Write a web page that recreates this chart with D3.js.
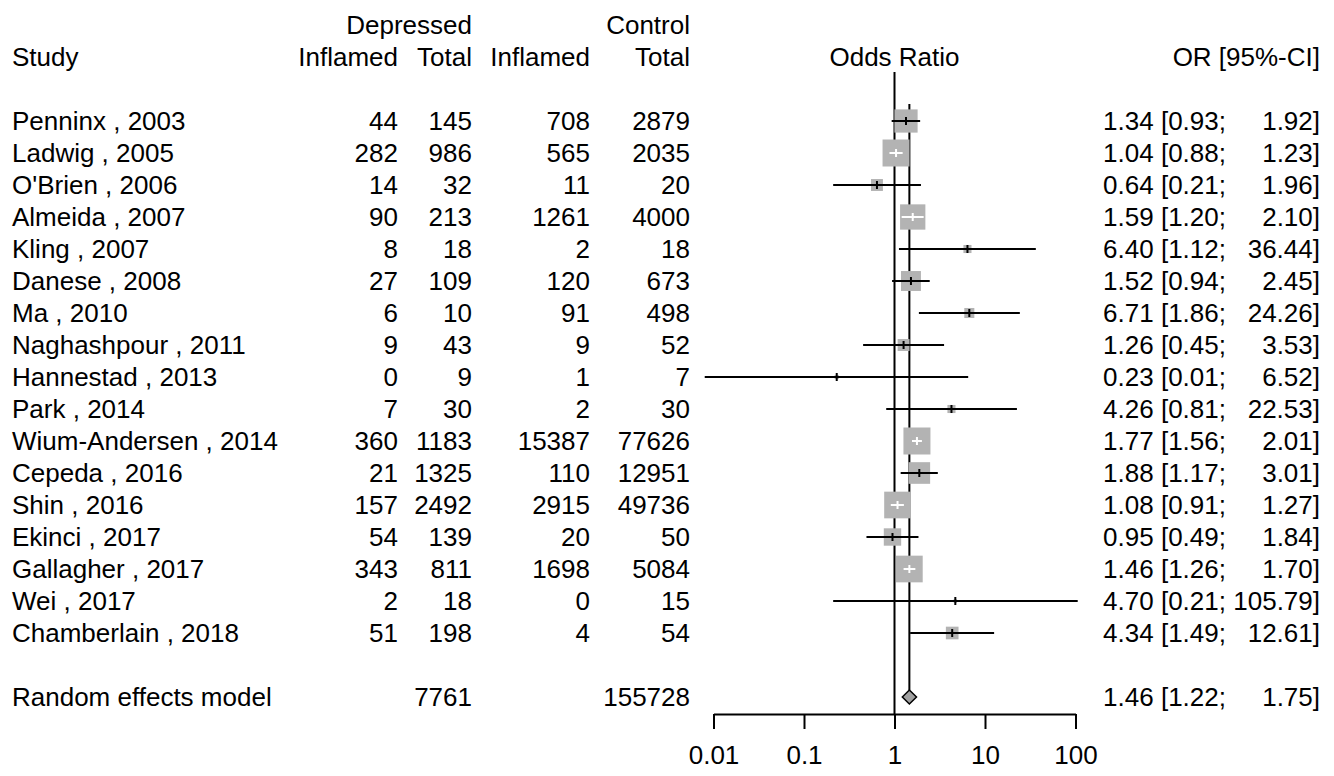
<!DOCTYPE html>
<html lang="en">

<head>
    <meta charset="UTF-8">
    <title>Forest plot - inflammation and depression</title>
    <style>
        body {
            margin: 0;
            background: white;
        }

        text {
            font-family: "Liberation Sans", Helvetica, Arial, sans-serif;
            font-size: 26px;
            fill: black;
        }

        .axis path,
        .axis line {
            fill: none;
            stroke: black;
            stroke-width: 2px;
        }

        .axis text {
            font-family: "Liberation Sans", Helvetica, Arial, sans-serif;
            font-size: 26px;
        }

        .box {
            fill: #b3b3b3;
        }

        .ci {
            stroke-width: 2px;
        }
    </style>
</head>

<body>
    <script src="https://d3js.org/d3.v7.min.js"></script>
    <script>
        var width = 1334;
        var height = 776;

        // studies
        var studies = ["Penninx , 2003", "Ladwig , 2005", "O'Brien , 2006", "Almeida , 2007", "Kling , 2007",
            "Danese , 2008", "Ma , 2010", "Naghashpour , 2011", "Hannestad , 2013", "Park , 2014",
            "Wium-Andersen , 2014", "Cepeda , 2016", "Shin , 2016", "Ekinci , 2017", "Gallagher , 2017",
            "Wei , 2017", "Chamberlain , 2018"];
        var depInflamed = [44, 282, 14, 90, 8, 27, 6, 9, 0, 7, 360, 21, 157, 54, 343, 2, 51];
        var depTotal = [145, 986, 32, 213, 18, 109, 10, 43, 9, 30, 1183, 1325, 2492, 139, 811, 18, 198];
        var ctlInflamed = [708, 565, 11, 1261, 2, 120, 91, 9, 1, 2, 15387, 110, 2915, 20, 1698, 0, 4];
        var ctlTotal = [2879, 2035, 20, 4000, 18, 673, 498, 52, 7, 30, 77626, 12951, 49736, 50, 5084, 15, 54];
        var orEst = [1.34, 1.04, 0.64, 1.59, 6.40, 1.52, 6.71, 1.26, 0.23, 4.26, 1.77, 1.88, 1.08, 0.95, 1.46, 4.70, 4.34];
        var orLow = [0.93, 0.88, 0.21, 1.20, 1.12, 0.94, 1.86, 0.45, 0.008, 0.81, 1.56, 1.17, 0.91, 0.49, 1.26, 0.21, 1.49];
        var orUpp = [1.92, 1.23, 1.96, 2.10, 36.44, 2.45, 24.26, 3.53, 6.52, 22.53, 2.01, 3.01, 1.27, 1.84, 1.70, 105.79, 12.61];
        // random effects weights (%)
        var weights = [9.1, 12.3, 2.4, 10.8, 1.1, 6.7, 1.7, 2.4, 0.3, 1.1, 12.3, 7.9, 12.0, 5.1, 12.0, 0.2, 2.7];

        // pooled estimate
        var pooled = { label: "Random effects model", depTotal: 7761, ctlTotal: 155728, est: 1.46, low: 1.22, upp: 1.75 };
        var tickValues = [0.01, 0.1, 1, 10, 100];

        var svg = d3.select('body').append('svg').attr('width', width).attr('height', height);

        var xScale = d3.scaleLog()
            .domain([0.01, 100])
            .range([713.5, 1075.5]);
        // row index -> y centre
        var yScale = d3.scaleLinear()
            .domain([0, 1])
            .range([121, 153]);
        var boxScale = d3.scaleSqrt()
            .domain([0, d3.max(weights)])
            .range([0, 27]);
        var summaryRow = studies.length + 1;
        var baseOff = 9;

        var rows = studies.map(function (s, i) {
            return {
                study: s, di: depInflamed[i], dt: depTotal[i], ci: ctlInflamed[i], ct: ctlTotal[i],
                est: orEst[i], low: orLow[i], upp: orUpp[i], w: weights[i], row: i
            };
        });

        // column headers
        var headers = [
            { t: "Depressed", x: 472, r: -3, a: "end" },
            { t: "Control", x: 690, r: -3, a: "end" },
            { t: "Study", x: 12, r: -2, a: "start" },
            { t: "Inflamed", x: 398, r: -2, a: "end" },
            { t: "Total", x: 472, r: -2, a: "end" },
            { t: "Inflamed", x: 590, r: -2, a: "end" },
            { t: "Total", x: 690, r: -2, a: "end" },
            { t: "Odds Ratio", x: xScale(1), r: -2, a: "middle" },
            { t: "OR [95%-CI]", x: 1320, r: -2, a: "end" }
        ];
        svg.selectAll('.hdr')
            .data(headers)
            .enter()
            .append('text')
            .attr('class', 'hdr')
            .attr('x', function (d) { return d.x; })
            .attr('y', function (d) { return yScale(d.r) + baseOff; })
            .attr('text-anchor', function (d) { return d.a; })
            .text(function (d) { return d.t; });

        // text columns for each study
        var cols = [
            { key: 'study', x: 12, a: 'start' },
            { key: 'di', x: 398, a: 'end' },
            { key: 'dt', x: 472, a: 'end' },
            { key: 'ci', x: 590, a: 'end' },
            { key: 'ct', x: 690, a: 'end' }
        ];
        cols.forEach(function (c) {
            svg.selectAll('.col-' + c.key)
                .data(rows)
                .enter()
                .append('text')
                .attr('class', 'col-' + c.key)
                .attr('x', c.x)
                .attr('y', function (d) { return yScale(d.row) + baseOff; })
                .attr('text-anchor', c.a)
                .text(function (d) { return d[c.key]; });
        });

        // OR [95%-CI] column, split so the upper limits line up on the right
        var allCi = rows.concat([{ est: pooled.est, low: pooled.low, upp: pooled.upp, row: summaryRow }]);
        svg.selectAll('.orLeft')
            .data(allCi)
            .enter()
            .append('text')
            .attr('class', 'orLeft')
            .attr('x', 1226)
            .attr('y', function (d) { return yScale(d.row) + baseOff; })
            .attr('text-anchor', 'end')
            .text(function (d) { return d.est.toFixed(2) + " [" + d.low.toFixed(2) + ";"; });
        svg.selectAll('.orRight')
            .data(allCi)
            .enter()
            .append('text')
            .attr('class', 'orRight')
            .attr('x', 1320)
            .attr('y', function (d) { return yScale(d.row) + baseOff; })
            .attr('text-anchor', 'end')
            .text(function (d) { return d.upp.toFixed(2) + "]"; });

        // pooled row text
        svg.append('text').attr('x', 12).attr('y', yScale(summaryRow) + baseOff).text(pooled.label);
        svg.append('text').attr('x', 472).attr('y', yScale(summaryRow) + baseOff)
            .attr('text-anchor', 'end').text(pooled.depTotal);
        svg.append('text').attr('x', 690).attr('y', yScale(summaryRow) + baseOff)
            .attr('text-anchor', 'end').text(pooled.ctlTotal);

        // reference lines: no effect and pooled estimate
        svg.append('line')
            .attr('x1', xScale(1)).attr('x2', xScale(1))
            .attr('y1', 72).attr('y2', 714)
            .attr('stroke', 'black').attr('stroke-width', 2);
        svg.append('line')
            .attr('x1', xScale(pooled.est)).attr('x2', xScale(pooled.est))
            .attr('y1', 104).attr('y2', yScale(summaryRow) - 7)
            .attr('stroke', 'black').attr('stroke-width', 2);

        // weight boxes
        svg.selectAll('.box')
            .data(rows)
            .enter()
            .append('rect')
            .attr('class', 'box')
            .attr('x', function (d) { return xScale(d.est) - boxScale(d.w) / 2; })
            .attr('y', function (d) { return yScale(d.row) - boxScale(d.w) / 2; })
            .attr('width', function (d) { return boxScale(d.w); })
            .attr('height', function (d) { return boxScale(d.w); });

        // confidence intervals, white when they sit inside the box
        function inside(d) {
            var half = boxScale(d.w) / 2;
            var cx = xScale(d.est);
            return xScale(d.low) >= cx - half && xScale(d.upp) <= cx + half;
        }
        svg.selectAll('.ci')
            .data(rows)
            .enter()
            .append('line')
            .attr('class', 'ci')
            .attr('x1', function (d) { return xScale(d.low); })
            .attr('x2', function (d) { return xScale(d.upp); })
            .attr('y1', function (d) { return yScale(d.row); })
            .attr('y2', function (d) { return yScale(d.row); })
            .attr('stroke', function (d) { return inside(d) ? 'white' : 'black'; });
        svg.selectAll('.est')
            .data(rows)
            .enter()
            .append('line')
            .attr('class', 'ci est')
            .attr('x1', function (d) { return xScale(d.est); })
            .attr('x2', function (d) { return xScale(d.est); })
            .attr('y1', function (d) { return yScale(d.row) - 4; })
            .attr('y2', function (d) { return yScale(d.row) + 4; })
            .attr('stroke', function (d) { return inside(d) ? 'white' : 'black'; });

        // pooled diamond
        var py = yScale(summaryRow);
        svg.append('path')
            .attr('d', d3.line()([
                [xScale(pooled.low), py], [xScale(pooled.est), py - 7],
                [xScale(pooled.upp), py], [xScale(pooled.est), py + 7]
            ]) + 'Z')
            .attr('fill', '#a0a0a0')
            .attr('stroke', 'black')
            .attr('stroke-width', 1.5);

        // x axis
        svg.append('g')
            .attr('class', 'axis')
            .attr('transform', 'translate(0,714)')
            .call(d3.axisBottom(xScale)
                .tickValues(tickValues)
                .tickFormat(function (d) { return String(d); })
                .tickSize(15)
                .tickSizeOuter(0)
                .tickPadding(17));
        svg.select('.axis').selectAll('text').attr('fill', 'black');
    </script>
</body>

</html>
